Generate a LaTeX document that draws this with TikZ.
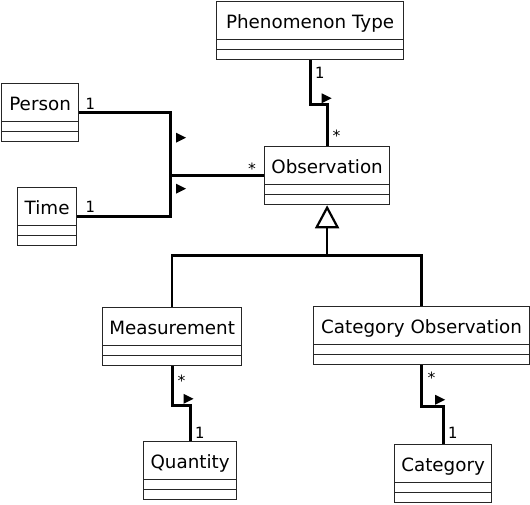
\documentclass[tikz,border=0pt]{standalone}
\usepackage{fontspec}
\setmainfont{DejaVu Sans}
\newfontfamily\multfont{DejaVu Sans Mono}
\usetikzlibrary{arrows.meta,positioning,calc,shapes.multipart}
\tikzset{
  class node/.style={rectangle split,rectangle split parts=3,
    rectangle split ignore empty parts=false,
    rectangle split empty part height=9pt,rectangle split empty part depth=0pt,
    draw=black!85,line width=1.2pt,inner xsep=0pt,inner ysep=0pt,
    anchor=north west,font=\fontsize{18.3}{20}\selectfont},
  assoc line/.style={draw=black,line width=3pt},
  gen line/.style={draw=black,line width=2.6pt},
  gen arrow/.style={-{Triangle[open,length=23pt,width=24pt,line width=2.2pt]},
    draw=black,line width=2.6pt},
  mult label/.style={inner sep=0pt,font=\multfont\fontsize{15.5}{16}\selectfont},
  dir mark/.pic={\fill (-5,-5) -- (5,0) -- (-5,5) -- cycle;}
}
\newcommand{\clsname}[1]{\rule[-10.5pt]{0pt}{36.5pt}#1}

\begin{document}
\begin{tikzpicture}[x=1pt,y=-1pt]
    \useasboundingbox (0,0) rectangle (530,505);
    % classes
    \node[class node,minimum width=187pt] (phen) at (216,1) {\clsname{Phenomenon Type}};
    \node[class node,minimum width=125pt] (obs) at (264,146) {\clsname{Observation}};
    \node[class node,minimum width=77pt] (person) at (1,83) {\clsname{Person}};
    \node[class node,minimum width=59pt] (time) at (17,187) {\clsname{Time}};
    \node[class node,minimum width=139pt] (meas) at (102,307) {\clsname{Measurement}};
    \node[class node,minimum width=216pt] (catobs) at (313,306) {\clsname{Category Observation}};
    \node[class node,minimum width=93pt] (qty) at (143,441) {\clsname{Quantity}};
    \node[class node,minimum width=97pt] (cat) at (394,444) {\clsname{Category}};

    % associations
    \coordinate (jn) at ([xshift=-94pt]obs.west);
    \draw[assoc line] (person.east) -| (jn) -- (obs.west);
    \draw[assoc line] (time.east) -| (jn);
    \pic at ($(jn)+(11,-38)$) {dir mark};
    \pic at ($(jn)+(11,13)$) {dir mark};

    \coordinate (phenbend) at ([yshift=-44pt]phen.south);
    \draw[assoc line] (phen.south) -- (phenbend) -| (obs.north);
    \pic at ($(obs.north |- phenbend)+(-0.5,-6)$) {dir mark};

    \coordinate (measbend) at ([yshift=-39pt]meas.south);
    \draw[assoc line] (meas.south) -- (measbend) -| (qty.north);
    \pic at ($(qty.north |- measbend)+(-1.5,-6.5)$) {dir mark};

    \coordinate (catbend) at ([yshift=-41pt]catobs.south);
    \draw[assoc line] (catobs.south) -- (catbend) -| (cat.north);
    \pic at ($(cat.north |- catbend)+(-3,-6.5)$) {dir mark};

    % generalization
    \coordinate (genjn) at ([yshift=-50pt]obs.south);
    \draw[gen line] (meas.north) |- (genjn) -| (catobs.north);
    \draw[gen arrow] (genjn) -- (obs.south);

    % multiplicities
    \node[mult label,anchor=base west] (mperson) at ($(person.east)+(6,-3)$) {1};
    \node[mult label,anchor=base west] (mtime) at ($(time.east)+(8,-4)$) {1};
    \node[mult label,anchor=base east] (mobsl) at ($(obs.west)+(-7,-1.5)$) {*};
    \node[mult label,anchor=base west] (mphen) at ($(phen.south)+(4.5,18)$) {1};
    \node[mult label,anchor=base west] (mobst) at ($(obs.north)+(4.5,-4.5)$) {*};
    \node[mult label,anchor=base west] (mmeas) at ($(meas.south)+(4.5,20.5)$) {*};
    \node[mult label,anchor=base west] (mqty) at ($(qty.north)+(4.5,-3)$) {1};
    \node[mult label,anchor=base west] (mcatobs) at ($(catobs.south)+(5,18.5)$) {*};
    \node[mult label,anchor=base west] (mcat) at ($(cat.north)+(4.5,-6)$) {1};
\end{tikzpicture}
\end{document}
